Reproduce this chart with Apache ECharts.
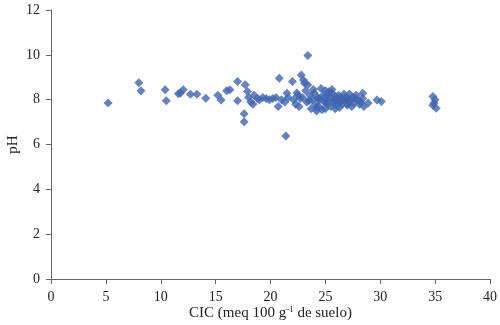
<!DOCTYPE html>
<html>
<head>
<meta charset="utf-8">
<script src="https://cdn.jsdelivr.net/npm/echarts@6/dist/echarts.min.js"></script>
<style>
  html, body { margin: 0; padding: 0; background: #fff; }
  #chart { width: 500px; height: 325px; }
</style>
</head>
<body>
<div id="chart"></div>
<script>
// CIC (meq 100 g-1 de suelo)
var cicVals = [
  5.2, 8.0, 8.2, 10.4, 10.5, 11.6, 11.8, 12.05, 12.7, 13.3,
  14.1, 15.2, 15.5, 16.0, 16.3, 17.0, 17.0, 17.7, 17.9, 17.6,
  17.6, 18.0, 18.2, 18.4, 18.5, 18.8, 19.0, 19.3, 19.6, 19.9,
  20.2, 20.5, 20.8, 20.7, 21.4, 21.5, 21.0, 21.3, 21.6, 22.0,
  22.1, 22.3, 22.5, 22.8, 23.0, 23.1, 23.4, 23.4, 23.2, 22.6,
  22.9, 23.3, 23.6, 23.8, 23.7, 24.0, 24.1, 24.3, 24.2, 24.5,
  24.6, 24.4, 24.8, 24.9, 25.0, 25.1, 25.0, 25.2, 25.3, 25.4,
  25.5, 25.6, 25.7, 25.8, 25.9, 26.0, 26.1, 26.2, 26.3, 26.4,
  26.5, 26.6, 26.8, 26.9, 27.0, 27.1, 27.3, 27.5, 27.6, 27.8,
  28.0, 28.2, 28.4, 28.4, 28.5, 28.9, 29.7, 30.1, 34.8, 35.0,
  34.9, 35.1, 34.8, 24.7, 25.3, 25.9, 26.7, 27.4, 23.9, 22.4,
  24.2, 25.6, 26.3, 27.2, 28.1, 23.5, 24.4, 25.1, 25.8, 26.5,
  27.7, 22.7, 24.9, 26.0, 27.0
];
// pH
var phVals = [
  7.85, 8.75, 8.4, 8.44, 7.95, 8.26, 8.3, 8.44, 8.24, 8.24,
  8.06, 8.2, 7.99, 8.4, 8.44, 8.81, 7.95, 8.66, 8.36, 7.37,
  7.02, 8.1, 7.9, 7.8, 8.2, 8.05, 8.0, 8.1, 8.05, 8.0,
  8.05, 8.1, 8.96, 7.69, 6.38, 8.29, 8.0, 7.9, 8.1, 8.81,
  8.0, 7.8, 8.2, 9.1, 8.88, 8.73, 9.97, 8.66, 8.4, 7.7,
  8.1, 7.9, 8.2, 8.0, 7.6, 8.3, 7.8, 8.1, 7.5, 8.0,
  8.5, 7.7, 8.2, 7.9, 8.4, 8.0, 7.6, 7.8, 8.2, 8.1,
  7.7, 8.3, 7.9, 8.0, 8.15, 7.75, 8.05, 8.2, 7.9, 8.1,
  7.8, 8.0, 8.1, 7.85, 8.05, 7.9, 8.0, 8.1, 7.85, 8.2,
  8.0, 7.9, 8.29, 8.05, 7.7, 7.85, 7.99, 7.92, 8.14, 8.0,
  7.84, 7.62, 7.75, 7.55, 8.35, 7.6, 8.25, 7.7, 8.45, 8.3,
  7.65, 8.45, 7.65, 8.25, 7.8, 7.95, 8.05, 7.85, 7.95, 7.95,
  8.05, 8.05, 8.1, 7.95, 7.75
];

var xTicks = [0, 40, 5];
var yTicks = [0, 12, 2];

var points = cicVals.map(function (x, i) { return [x, phVals[i]]; });

var chart = echarts.init(document.getElementById('chart'));
var axisFont = { fontFamily: 'Liberation Serif', fontSize: 14, color: '#222' };
var option = {
  animation: false,
  grid: { left: 51, right: 10, top: 10, bottom: 46, containLabel: false, outerBoundsMode: 'none' },
  xAxis: {
    type: 'value',
    min: xTicks[0], max: xTicks[1], interval: xTicks[2],
    name: '{b|CIC (meq 100 g}{s|-1}{b| de suelo)}',
    nameLocation: 'middle',
    nameGap: 26,
    nameMoveOverlap: false,
    nameTextStyle: {
      rich: {
        b: { fontFamily: 'Liberation Serif', fontSize: 15, color: '#222' },
        s: { fontFamily: 'Liberation Serif', fontSize: 9, color: '#222', verticalAlign: 'top', padding: [0, 0, 7, 0] }
      }
    },
    axisLine: { lineStyle: { color: '#666', width: 1 } },
    axisTick: { inside: false, length: 5, lineStyle: { color: '#666' } },
    axisLabel: Object.assign({ margin: 11 }, axisFont),
    splitLine: { show: false }
  },
  yAxis: {
    type: 'value',
    min: yTicks[0], max: yTicks[1], interval: yTicks[2],
    name: 'pH',
    nameLocation: 'middle',
    nameGap: 30,
    nameMoveOverlap: false,
    nameRotate: 90,
    nameTextStyle: { fontFamily: 'Liberation Serif', fontSize: 15, color: '#222' },
    axisLine: { show: true, lineStyle: { color: '#666', width: 1 } },
    axisTick: { show: true, inside: false, length: 5, lineStyle: { color: '#666' } },
    axisLabel: Object.assign({ margin: 11 }, axisFont),
    splitLine: { show: false }
  },
  series: [{
    type: 'scatter',
    data: points,
    symbol: 'path://M0,-1L1,0L0,1L-1,0Z',
    symbolSize: 9,
    itemStyle: { color: '#4064b0' }
  }]
};
chart.setOption(option);
</script>
</body>
</html>
